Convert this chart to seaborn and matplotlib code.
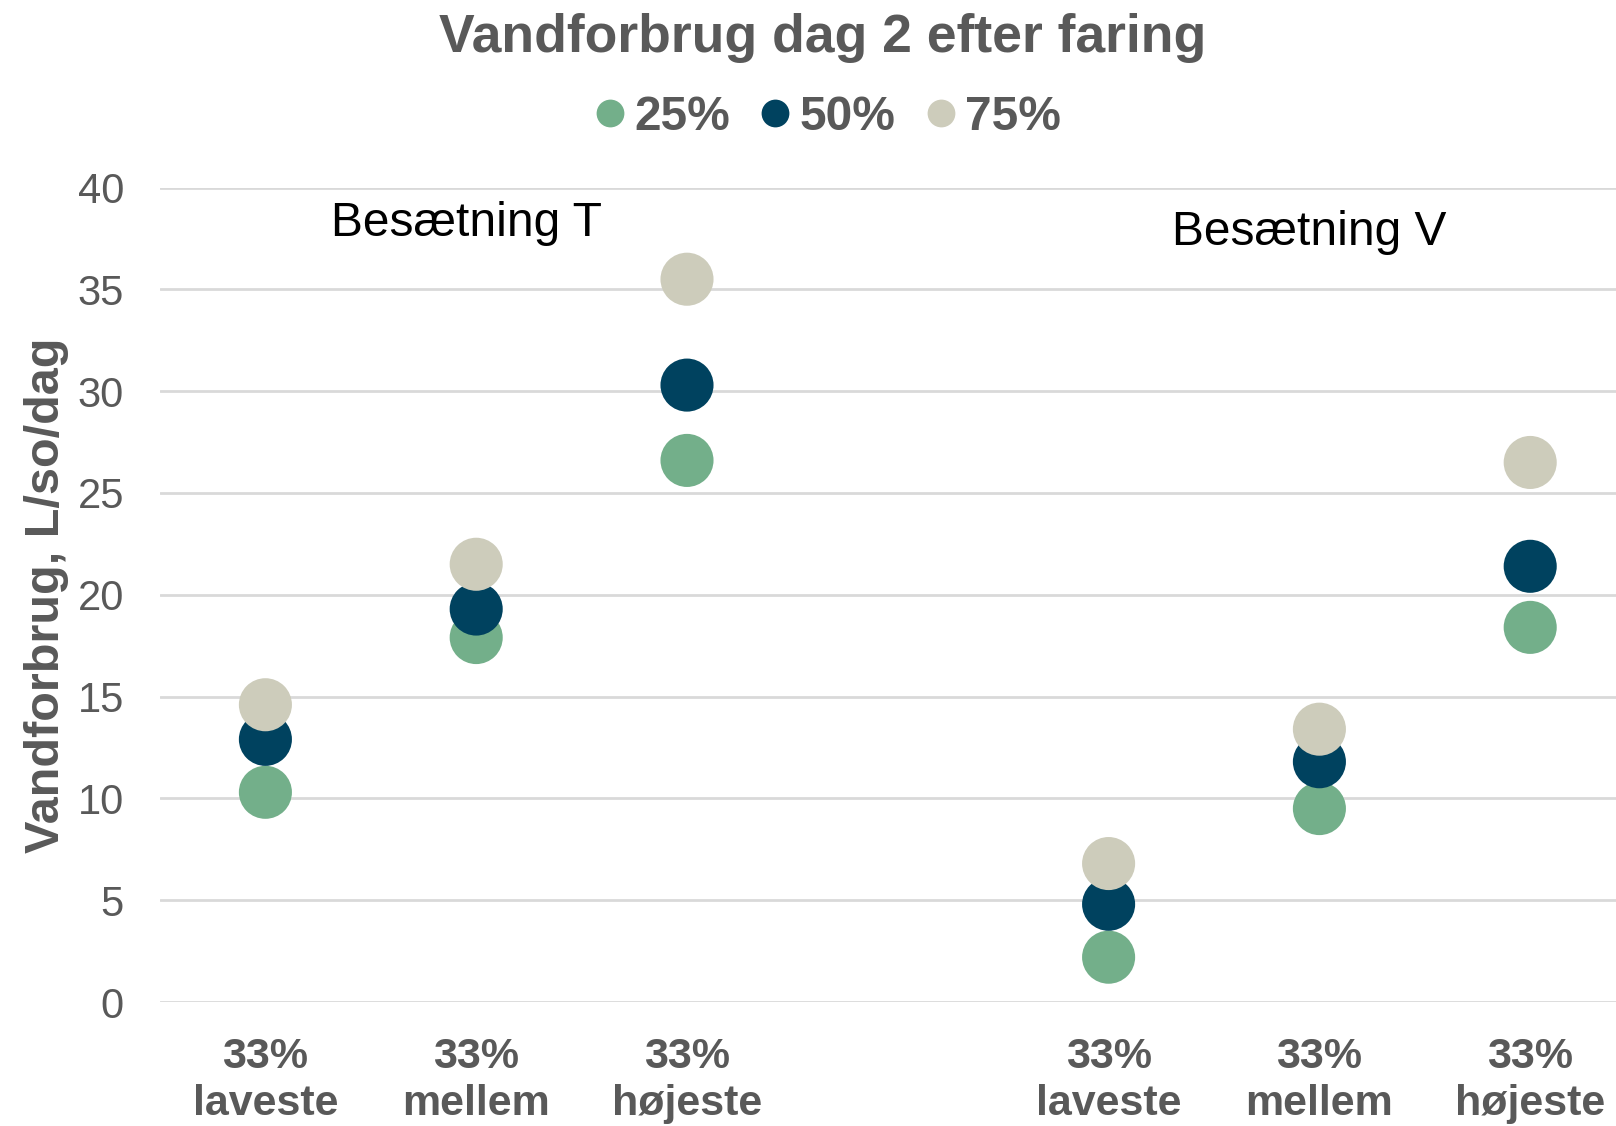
import pandas as pd
import matplotlib
matplotlib.use("Agg")
import matplotlib.pyplot as plt
import seaborn as sns
from matplotlib.lines import Line2D

# Data
herds = ["Besætning T", "Besætning V"]
groups = ["33%\nlaveste", "33%\nmellem", "33%\nhøjeste"]
percentiles = ["25%", "50%", "75%"]

herd_T_25 = [10.3, 17.9, 26.6]
herd_T_50 = [12.9, 19.3, 30.3]
herd_T_75 = [14.6, 21.5, 35.5]
herd_V_25 = [2.2, 9.5, 18.4]
herd_V_50 = [4.8, 11.8, 21.4]
herd_V_75 = [6.8, 13.4, 26.5]

colors = {"25%": "#73AF8A", "50%": "#00425F", "75%": "#CDCCBB"}
GREY = "#595959"

# Build long table: x position = herd block (with an empty slot between) + group
series = {
    ("Besætning T", "25%"): herd_T_25, ("Besætning T", "50%"): herd_T_50,
    ("Besætning T", "75%"): herd_T_75, ("Besætning V", "25%"): herd_V_25,
    ("Besætning V", "50%"): herd_V_50, ("Besætning V", "75%"): herd_V_75,
}
rows = []
for pct in percentiles:
    for h, herd in enumerate(herds):
        for g, grp in enumerate(groups):
            rows.append({"Herd": herd, "Group": grp, "Percentile": pct,
                         "pos": h * 4 + g, "Value": series[(herd, pct)][g]})
df = pd.DataFrame(rows)

sns.set_style("white")
plt.rcParams["font.family"] = ["Liberation Sans", "DejaVu Sans"]

fig = plt.figure(figsize=(16.16, 11.26), dpi=100)
ax = fig.add_axes([160 / 1616, 124 / 1126, 1 - 160 / 1616, (1002 - 187.6) / 1126])

sns.scatterplot(data=df, x="pos", y="Value", hue="Percentile", palette=colors,
                s=1460, linewidth=0, alpha=1, legend=False, ax=ax, clip_on=False,
                zorder=3)

ax.set_xlim(-0.5, 6.407)
ax.set_ylim(0, 40)
ax.set_yticks(range(0, 41, 5))
ax.yaxis.grid(True, color="#D9D9D9", linewidth=2)
ax.xaxis.grid(False)
for sp in ax.spines.values():
    sp.set_visible(False)

tick_pos = [0, 1, 2, 4, 5, 6]
ax.set_xticks(tick_pos)
ax.set_xticklabels(groups * 2, fontsize=31, fontweight="bold", color=GREY,
                   linespacing=1.22)
ax.tick_params(axis="x", length=0, pad=25.5)
ax.tick_params(axis="y", length=0, pad=26, labelsize=30, labelcolor=GREY)

ax.set_xlabel("")
ax.set_ylabel("Vandforbrug, L/so/dag", fontsize=35, fontweight="bold",
              color=GREY, labelpad=6)

# Herd annotations
ax.text(0.956, 37.6, herds[0], fontsize=34.5, color="black", ha="center", va="baseline")
ax.text(4.95, 37.18, herds[1], fontsize=34.5, color="black", ha="center", va="baseline")

fig.text(823 / 1616, 1 - 52 / 1126, "Vandforbrug dag 2 efter faring", fontsize=38.5,
         fontweight="bold", color=GREY, ha="center", va="baseline")

handles = [Line2D([], [], marker="o", linestyle="", markersize=20,
                  markerfacecolor=colors[p], markeredgewidth=0) for p in percentiles]
leg = fig.legend(handles, percentiles, loc="center", bbox_to_anchor=(828 / 1616, 1 - 117 / 1126),
                 ncol=3, frameon=False, handlelength=0.6, handletextpad=0.2,
                 columnspacing=0.65, borderpad=0,
                 prop={"size": 34.5, "weight": "bold"})
for t in leg.get_texts():
    t.set_color(GREY)

fig.savefig("out.png", dpi=100)
